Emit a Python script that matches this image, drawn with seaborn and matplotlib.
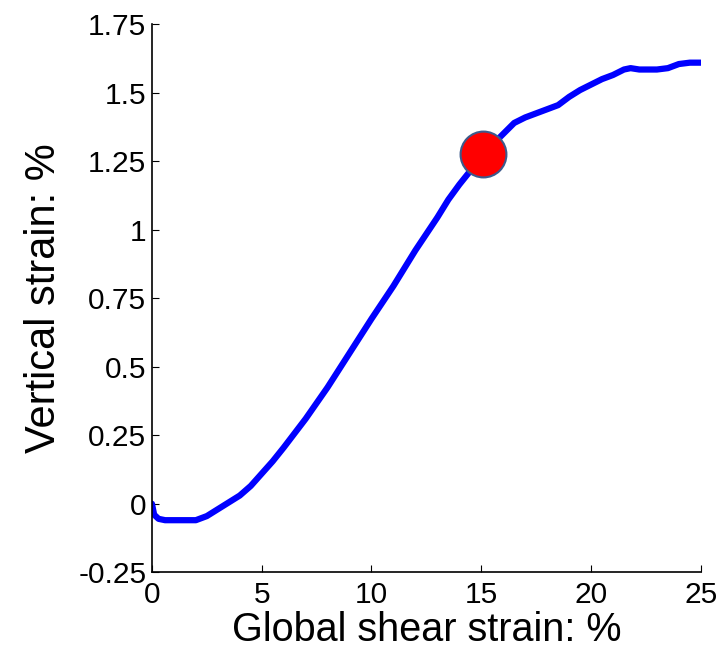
import pandas as pd
import seaborn as sns
import matplotlib.pyplot as plt

# values
shear = [0.0, 0.1, 0.3, 0.6, 1.0, 1.5, 2.0, 2.5, 3.0, 3.5, 4.0, 4.5, 5.0, 5.5, 6.0,
         7.0, 8.0, 9.0, 10.0, 11.0, 12.0, 13.0, 13.5, 14.0, 14.5, 15.0, 15.5, 16.0,
         16.5, 17.0, 17.5, 18.0, 18.5, 19.0, 19.5, 20.0, 20.5, 21.0, 21.5, 21.8,
         22.2, 22.6, 23.0, 23.5, 24.0, 24.5, 25.0]
vertical = [0.0, -0.04, -0.055, -0.06, -0.06, -0.06, -0.06, -0.045, -0.02, 0.005, 0.03,
            0.065, 0.11, 0.155, 0.205, 0.31, 0.425, 0.55, 0.675, 0.795, 0.925, 1.045,
            1.11, 1.165, 1.215, 1.26, 1.31, 1.35, 1.39, 1.41, 1.425, 1.44, 1.455,
            1.485, 1.51, 1.53, 1.55, 1.565, 1.585, 1.59, 1.585, 1.585, 1.585, 1.59,
            1.605, 1.61, 1.61]
marker_x = [15.1]
marker_y = [1.275]

df = pd.DataFrame({'shear': shear, 'vertical': vertical})
pt = pd.DataFrame({'shear': marker_x, 'vertical': marker_y})

sns.set_style('ticks')
plt.rcParams['font.family'] = ['Liberation Sans', 'DejaVu Sans']
plt.rcParams['text.color'] = 'black'
plt.rcParams['axes.labelcolor'] = 'black'

f, ax = plt.subplots(figsize=(7.27, 6.57), dpi=100)
f.subplots_adjust(left=0.209, right=0.964, bottom=0.129, top=0.963)

sns.lineplot(data=df, x='shear', y='vertical', sort=False, color='#0000ff',
             linewidth=4.5, ax=ax)
sns.scatterplot(data=pt, x='shear', y='vertical', s=33**2, color='#ff0000',
                edgecolor='#3c5a8c', linewidth=1.5, zorder=5, ax=ax)

ax.set(xlim=(0, 25), ylim=(-0.25, 1.75))
ax.set_xticks([0, 5, 10, 15, 20, 25])
ax.set_xticklabels(['0', '5', '10', '15', '20', '25'])
ax.set_yticks([-0.25, 0, 0.25, 0.5, 0.75, 1, 1.25, 1.5, 1.75])
ax.set_yticklabels(['-0.25', '0', '0.25', '0.5', '0.75', '1', '1.25', '1.5', '1.75'])
ax.tick_params(direction='in', length=5, width=0.8, labelsize=21.5,
               colors='black', labelcolor='black')
ax.tick_params(axis='x', pad=6)
ax.tick_params(axis='y', pad=4)
ax.set_xlabel('Global shear strain: %', fontsize=28.5, labelpad=2, color='black')
ax.set_ylabel('Vertical strain: %', fontsize=30, labelpad=10, color='black')
sns.despine(ax=ax)
for s in ['left', 'bottom']:
    ax.spines[s].set_linewidth(1.2)
    ax.spines[s].set_color('black')

plt.savefig('out.png', dpi=100)
